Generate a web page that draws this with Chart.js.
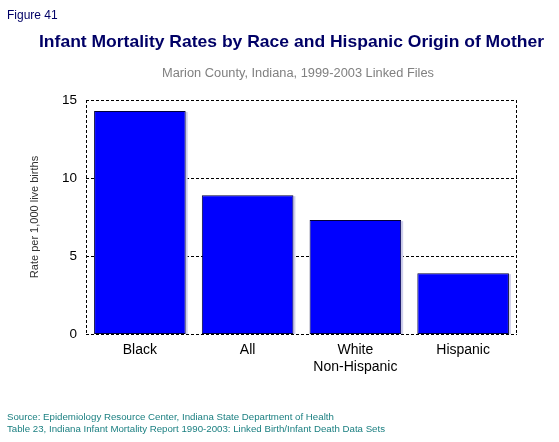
<!DOCTYPE html>
<html>
<head>
<meta charset="utf-8">
<script src="https://cdn.jsdelivr.net/npm/chart.js@4.4.0/dist/chart.umd.min.js"></script>
<style>
  body { margin: 0; background: #fff; font-family: Arial, "Liberation Sans", sans-serif; }
  #wrap { position: relative; width: 559px; height: 442px; }
  #chartBox { position: absolute; left: 0; top: 0; width: 559px; height: 442px; }
  .txt { position: absolute; white-space: nowrap; line-height: 1; }
  #fig { left: 7px; top: 9px; font-size: 12px; color: #000066; }
  #title { left: 39px; top: 33px; font-size: 17px; font-weight: bold; color: #000066; transform-origin: 0 0; }
  #subtitle { left: 162px; top: 67px; font-size: 12px; color: #808080; transform-origin: 0 0; }
  #source { left: 7px; top: 411px; font-size: 9.7px; color: #1a7f80; line-height: 11.5px; }
</style>
</head>
<body>
<div id="wrap">
  <div id="chartBox"><canvas id="rateChart"></canvas></div>
  <div class="txt" id="fig">Figure 41</div>
  <div class="txt" id="title">Infant Mortality Rates by Race and Hispanic Origin of Mother</div>
  <div class="txt" id="subtitle">Marion County, Indiana, 1999-2003 Linked Files</div>
  <div class="txt" id="source">Source: Epidemiology Resource Center, Indiana State Department of Health<br>Table 23, Indiana Infant Mortality Report 1990-2003: Linked Birth/Infant Death Data Sets</div>
</div>
<script>
const categories = ["Black", "All", ["White", "Non-Hispanic"], "Hispanic"];
const rates = [14.3, 8.9, 7.3, 3.9];
const yTicks = [0, 5, 10, 15];

// squeeze the header text to the widths seen in the picture
function fitWidth(id, target) {
  const el = document.getElementById(id);
  const w = el.getBoundingClientRect().width;
  el.style.transform = `scaleX(${target / w})`;
}
fitWidth("title", 505);
fitWidth("subtitle", 272);

// dashed frame and grid lines, drawn behind the bars
const dashedFrame = {
  id: "dashedFrame",
  beforeDatasetsDraw(chart) {
    const { ctx, chartArea: a, scales } = chart;
    ctx.save();
    ctx.strokeStyle = "#000";
    ctx.lineWidth = 1;
    ctx.setLineDash([3, 2]);
    yTicks.forEach((t) => {
      const y = Math.round(scales.y.getPixelForValue(t)) + 0.5;
      ctx.beginPath();
      ctx.moveTo(a.left, y);
      ctx.lineTo(a.right, y);
      ctx.stroke();
    });
    ctx.beginPath();
    ctx.moveTo(Math.round(a.left) + 0.5, a.top);
    ctx.lineTo(Math.round(a.left) + 0.5, a.bottom);
    ctx.moveTo(Math.round(a.right) - 0.5, a.top);
    ctx.lineTo(Math.round(a.right) - 0.5, a.bottom);
    ctx.stroke();
    ctx.restore();
  },
};

// light lavender shadow on the right side of each bar, from the bar elements
const barShadow = {
  id: "barShadow",
  beforeDatasetsDraw(chart) {
    const ctx = chart.ctx;
    const meta = chart.getDatasetMeta(0);
    ctx.save();
    ctx.fillStyle = "#cfcfec";
    meta.data.forEach((bar) => {
      const { x, y, base, width } = bar.getProps(["x", "y", "base", "width"], true);
      ctx.fillRect(x - width / 2 + 2, y + 1, width, base - y - 1);
    });
    ctx.restore();
  },
};

new Chart(document.getElementById("rateChart"), {
  type: "bar",
  data: {
    labels: categories,
    datasets: [
      {
        data: rates,
        backgroundColor: "#0000ff",
        borderColor: "#00003a",
        borderWidth: 1,
        borderSkipped: false,
        categoryPercentage: 1,
        barPercentage: 0.85,
      },
    ],
  },
  plugins: [dashedFrame, barShadow],
  options: {
    responsive: true,
    maintainAspectRatio: false,
    animation: false,
    layout: { padding: { left: 28, right: 42, top: 100, bottom: 0 } },
    plugins: {
      legend: { display: false },
      tooltip: { enabled: false },
    },
    scales: {
      x: {
        grid: { display: false },
        border: { display: false },
        ticks: {
          color: "#000",
          font: { family: "Arial, 'Liberation Sans'", size: 14 },
          padding: 0,
          maxRotation: 0,
        },
        afterFit: (s) => {
          s.height = 108;
        },
      },
      y: {
        min: 0,
        max: 15,
        grid: { display: false },
        border: { display: false },
        ticks: {
          stepSize: 5,
          color: "#000",
          font: { family: "Arial, 'Liberation Sans'", size: 13.5 },
          padding: 1,
        },
        title: {
          display: true,
          text: "Rate per 1,000 live births",
          color: "#333",
          font: { family: "Arial, 'Liberation Sans'", size: 11 },
          padding: 0,
        },
        afterFit: (s) => {
          s.width = 58;
        },
      },
    },
  },
});
</script>
</body>
</html>
